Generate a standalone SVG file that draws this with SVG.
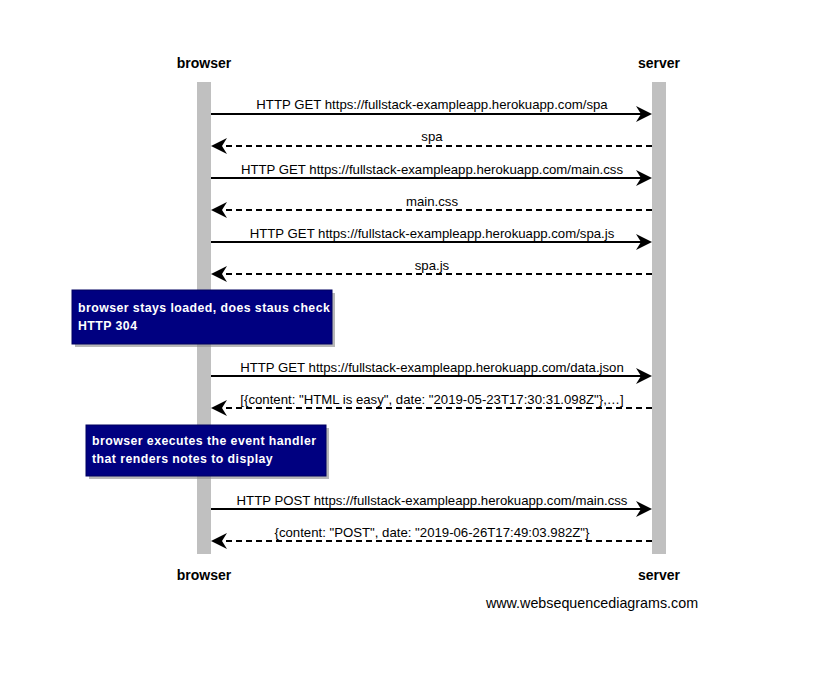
<svg xmlns="http://www.w3.org/2000/svg" width="817" height="678" viewBox="0 0 817 678">
<style>
.actor{font-family:"Liberation Sans",Arial,sans-serif;font-size:14px;font-weight:bold;fill:#000;text-anchor:middle}
.msg{font-family:"Liberation Sans",Arial,sans-serif;font-size:13.2px;fill:#000;text-anchor:middle}
.note{font-family:"Liberation Sans",Arial,sans-serif;font-size:12.3px;font-weight:bold;fill:#fff;letter-spacing:0.45px}
.life{fill:#c0c0c0}
.solid{stroke:#000;stroke-width:2;fill:none}
.dash{stroke:#000;stroke-width:2;fill:none;stroke-dasharray:6,4}
.nbox{fill:#000080;stroke:#000060;stroke-width:1}
.shadow{fill:#888;opacity:0.6}
.head{fill:#000}
</style>
<rect width="817" height="678" fill="#fff"/>
<g id="browser">
<text class="actor" x="204" y="68">browser</text>
<rect class="life" x="197" y="82" width="14" height="472"/>
<text class="actor" x="204" y="580">browser</text>
</g>
<g id="server">
<text class="actor" x="659" y="68">server</text>
<rect class="life" x="652" y="82" width="14" height="472"/>
<text class="actor" x="659" y="580">server</text>
</g>
<g id="connectors">
<line class="solid" x1="211" y1="114" x2="644" y2="114"/>
<path class="head" d="M652,114 L636,106 L641,114 L636,122 Z"/>
<text class="msg" x="432" y="109">HTTP GET https://fullstack-exampleapp.herokuapp.com/spa</text>
<line class="dash" x1="652" y1="146" x2="219" y2="146"/>
<path class="head" d="M211,146 L227,138 L222,146 L227,154 Z"/>
<text class="msg" x="432" y="141">spa</text>
<line class="solid" x1="211" y1="178" x2="644" y2="178"/>
<path class="head" d="M652,178 L636,170 L641,178 L636,186 Z"/>
<text class="msg" x="432" y="174">HTTP GET https://fullstack-exampleapp.herokuapp.com/main.css</text>
<line class="dash" x1="652" y1="210" x2="219" y2="210"/>
<path class="head" d="M211,210 L227,202 L222,210 L227,218 Z"/>
<text class="msg" x="432" y="206">main.css</text>
<line class="solid" x1="211" y1="242" x2="644" y2="242"/>
<path class="head" d="M652,242 L636,234 L641,242 L636,250 Z"/>
<text class="msg" x="432" y="238">HTTP GET https://fullstack-exampleapp.herokuapp.com/spa.js</text>
<line class="dash" x1="652" y1="274" x2="219" y2="274"/>
<path class="head" d="M211,274 L227,266 L222,274 L227,282 Z"/>
<text class="msg" x="432" y="270">spa.js</text>
<line class="solid" x1="211" y1="376" x2="644" y2="376"/>
<path class="head" d="M652,376 L636,368 L641,376 L636,384 Z"/>
<text class="msg" x="432" y="372">HTTP GET https://fullstack-exampleapp.herokuapp.com/data.json</text>
<line class="dash" x1="652" y1="408" x2="219" y2="408"/>
<path class="head" d="M211,408 L227,400 L222,408 L227,416 Z"/>
<text class="msg" x="432" y="404">[{content: "HTML is easy", date: "2019-05-23T17:30:31.098Z"},…]</text>
<line class="solid" x1="211" y1="509" x2="644" y2="509"/>
<path class="head" d="M652,509 L636,501 L641,509 L636,517 Z"/>
<text class="msg" x="432" y="505">HTTP POST https://fullstack-exampleapp.herokuapp.com/main.css</text>
<line class="dash" x1="652" y1="541" x2="219" y2="541"/>
<path class="head" d="M211,541 L227,533 L222,541 L227,549 Z"/>
<text class="msg" x="432" y="537">{content: "POST", date: "2019-06-26T17:49:03.982Z"}</text>
</g>
<g id="note1">
<rect class="shadow" x="75" y="293" width="260" height="54"/>
<rect class="nbox" x="72" y="290" width="260" height="54"/>
<text class="note" x="78" y="312">browser stays loaded, does staus check</text>
<text class="note" x="78" y="330">HTTP 304</text>
</g>
<g id="note2">
<rect class="shadow" x="89" y="428" width="240" height="51"/>
<rect class="nbox" x="86" y="425" width="240" height="51"/>
<text class="note" x="92" y="445">browser executes the event handler</text>
<text class="note" x="92" y="463">that renders notes to display</text>
</g>
<text class="msg" x="592" y="608" style="font-size:14.3px">www.websequencediagrams.com</text>
</svg>
